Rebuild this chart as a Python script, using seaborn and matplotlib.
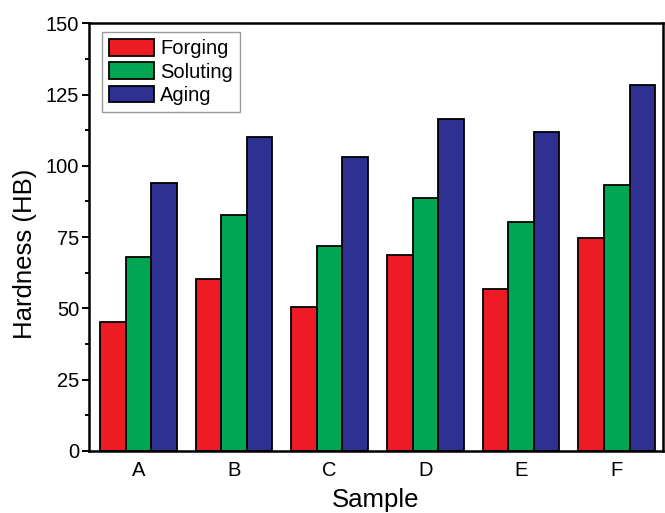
import pandas as pd
import matplotlib.pyplot as plt
import seaborn as sns
from matplotlib.ticker import MultipleLocator

samples = ['A', 'B', 'C', 'D', 'E', 'F']
forging = [45.4, 60.3, 50.5, 68.8, 56.8, 74.8]
soluting = [68.2, 82.9, 72.0, 88.9, 80.4, 93.4]
aging = [94.1, 110.0, 103.0, 116.3, 112.0, 128.2]

colors = ['#ED1C24', '#00A651', '#2E3192']

df = pd.DataFrame({
    'Sample': samples * 3,
    'Hardness': forging + soluting + aging,
    'Stage': ['Forging'] * 6 + ['Soluting'] * 6 + ['Aging'] * 6,
})

sns.set_style("ticks")
plt.rcParams['font.family'] = ['Liberation Sans', 'DejaVu Sans']
plt.rcParams['text.color'] = 'black'
plt.rcParams['axes.labelcolor'] = 'black'
plt.rcParams['xtick.color'] = 'black'
plt.rcParams['ytick.color'] = 'black'

fig, ax = plt.subplots(figsize=(6.65, 5.13), dpi=100)
fig.subplots_adjust(left=0.1338, right=0.997, top=0.9546, bottom=0.1209)

sns.barplot(data=df, x='Sample', y='Hardness', hue='Stage', palette=colors,
            width=0.8, edgecolor='black', linewidth=1.3, saturation=1, ax=ax)

ax.set_ylim(0, 150)
ax.set_xlim(-0.515, 5.483)
ax.yaxis.set_major_locator(MultipleLocator(25))
ax.yaxis.set_minor_locator(MultipleLocator(12.5))
ax.tick_params(axis='y', which='major', direction='out', length=5, width=1.4,
               labelsize=14.5, pad=2)
ax.tick_params(axis='y', which='minor', direction='out', length=3, width=1.4)
ax.tick_params(axis='x', length=0, labelsize=14.5, pad=7)
for s in ax.spines.values():
    s.set_linewidth(1.8)
    s.set_color('black')
    s.set_visible(True)

ax.set_xlabel('Sample', fontsize=18.5, labelpad=6)
ax.set_ylabel('Hardness (HB)', fontsize=18.5)
ax.yaxis.set_label_coords(-0.09, 0.46)

leg = ax.legend(loc='upper left', bbox_to_anchor=(0.0226, 0.9797), borderaxespad=0,
                fontsize=14.5, frameon=True, fancybox=False, edgecolor='gray',
                handlelength=2.25, handleheight=0.9, handletextpad=0.3,
                labelspacing=0.2, borderpad=0.35)
leg.get_frame().set_linewidth(1.0)
leg.set_title(None)

plt.savefig('out.png', dpi=100)
